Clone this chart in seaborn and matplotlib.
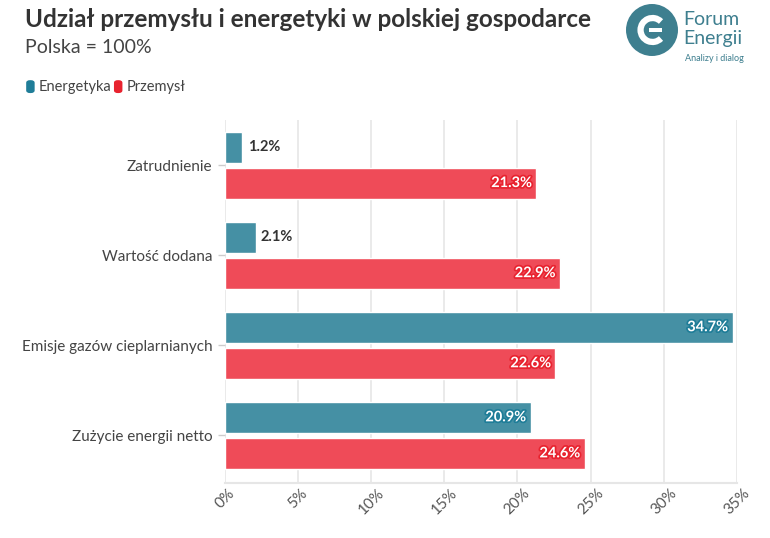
import matplotlib
matplotlib.use("Agg")
import matplotlib.pyplot as plt
import matplotlib.patheffects as pe
import numpy as np
import pandas as pd
import seaborn as sns
from matplotlib.patches import Circle, Arc, Rectangle, FancyBboxPatch
from matplotlib.ticker import FuncFormatter

# Data
categories = ["Zatrudnienie", "Wartość dodana", "Emisje gazów cieplarnianych", "Zużycie energii netto"]
energetyka = [1.2, 2.1, 34.7, 20.9]
przemysl = [21.3, 22.9, 22.6, 24.6]
series = ["Energetyka", "Przemysł"]

BAR_COLORS = {"Energetyka": "#4590a4", "Przemysł": "#ef4b58"}
LEGEND_COLORS = {"Energetyka": "#1f7d98", "Przemysł": "#e8232f"}
LOGO = "#3e7f8f"

df = pd.DataFrame({
    "kategoria": categories * 2,
    "seria": [series[0]] * len(categories) + [series[1]] * len(categories),
    "wartosc": energetyka + przemysl,
})

sns.set_theme(style="white")
plt.rcParams["font.family"] = ["Lato", "DejaVu Sans"]

fig = plt.figure(figsize=(7.7, 5.38), dpi=100)
ax = fig.add_axes([0.292, 0.102, 0.665, 0.675])

sns.barplot(
    data=df, y="kategoria", x="wartosc", hue="seria", order=categories,
    hue_order=series, palette=BAR_COLORS, orient="h", width=0.8, gap=0.14,
    saturation=1, legend=False, ax=ax,
)

ax.set_xlim(0, 35)
ax.set_ylim(3.53, -0.5)
ax.set_xticks(np.arange(0, 36, 5))
ax.xaxis.set_major_formatter(FuncFormatter(lambda v, p: f"{v:.0f}%"))
ax.grid(axis="x", color="#e6e6e6", lw=1.2)
ax.set_axisbelow(True)
ax.set_xlabel("")
ax.set_ylabel("")
for s in ["top", "right", "left"]:
    ax.spines[s].set_visible(False)
ax.spines["bottom"].set_color("#e6e6e6")
ax.spines["bottom"].set_linewidth(1.5)
ax.tick_params(axis="x", labelsize=11, labelcolor="#555555", rotation=45, length=0, pad=2)
for lab in ax.get_xticklabels():
    lab.set_ha("center")
    lab.set_va("top")
ax.tick_params(axis="y", labelsize=11, labelcolor="#444444", length=5, color="#cccccc",
               width=1, left=True, pad=4)

# value labels
for bars, name in zip(ax.containers, series):
    for rect in bars:
        w = rect.get_width()
        yc = rect.get_y() + rect.get_height() / 2
        if w < 5:
            ax.text(w + 0.35, yc, f"{w:.1f}%", ha="left", va="center",
                    fontsize=10.5, fontweight="bold", color="#333333")
        else:
            ax.text(w - 0.3, yc, f"{w:.1f}%", ha="right", va="center",
                    fontsize=10.5, fontweight="bold", color="white",
                    path_effects=[pe.withStroke(linewidth=2.5, foreground=LEGEND_COLORS[name])])

# title & subtitle
fig.text(0.032, 0.964, "Udział przemysłu i energetyki w polskiej gospodarce",
         fontsize=17.5, fontweight="bold", color="#333333", va="center")
fig.text(0.032, 0.912, "Polska = 100%", fontsize=14, color="#444444", va="center")

# legend
lx = 0.034
for name in series:
    fig.patches.append(FancyBboxPatch((lx, 0.827), 0.011, 0.024, boxstyle="round,pad=0,rounding_size=0.005",
                                      transform=fig.transFigure, color=LEGEND_COLORS[name], lw=0))
    fig.text(lx + 0.016, 0.839, name, fontsize=10.5, color="#444444", va="center")
    lx += 0.016 + (0.098 if name == "Energetyka" else 0.08)

# logo
lax = fig.add_axes([626 / 770, 1 - 56 / 538, 52 / 770, 52 / 538])
lax.set_xlim(-1, 1)
lax.set_ylim(-1, 1)
lax.set_aspect("equal")
lax.axis("off")
lax.add_patch(Circle((0, 0), 1, color=LOGO, lw=0))
lax.add_patch(Arc((0.02, 0), 0.92, 0.92, theta1=45, theta2=315, color="white", lw=4.5))
lax.add_patch(Rectangle((-0.1, -0.09), 0.5, 0.18, color="white", lw=0))
fig.text(0.887, 0.963, "Forum", fontsize=14, color=LOGO, va="center")
fig.text(0.887, 0.929, "Energii", fontsize=14, color=LOGO, va="center")
fig.text(0.889, 0.892, "Analizy i dialog", fontsize=6.5, color=LOGO, va="center")

fig.savefig("out.png", dpi=100)
